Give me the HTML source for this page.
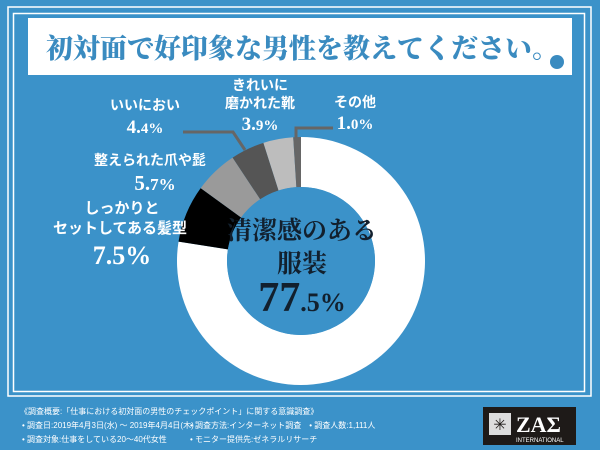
<!DOCTYPE html>
<html><head><meta charset="utf-8"><style>
body{margin:0;width:600px;height:450px;overflow:hidden;background:#3b92c9;font-family:"Liberation Sans","Noto Sans CJK JP",sans-serif;}
svg{display:block}
</style></head><body>
<svg width="600" height="450" xmlns="http://www.w3.org/2000/svg">
<rect x="0" y="0" width="600" height="450" fill="#3b92c9"/>
<rect x="8" y="7" width="583" height="389" fill="none" stroke="#fff" stroke-width="1.5"/>
<rect x="13.5" y="13.5" width="571" height="378" fill="none" stroke="#fff" stroke-width="1.5"/>
<rect x="28" y="18" width="544" height="57" fill="#fff"/>
<text x="46" y="58" font-family="'Noto Serif CJK SC','Liberation Serif',serif" font-weight="900" font-size="27" fill="#3a8bc0">初対面で好印象な男性を教えてください。</text>
<circle cx="557" cy="62" r="7" fill="#3a8bc0"/>
<g id="donut"></g>
<g id="labels" font-family="'Liberation Sans','Noto Sans CJK JP',sans-serif" font-weight="bold" fill="#fff" text-anchor="middle">
<text x="145" y="110" font-size="14">いいにおい</text>
<text x="145" y="133" font-size="15" font-family="'Liberation Serif',serif"><tspan font-size="19">4.</tspan>4%</text>
<text x="260" y="90" font-size="14">きれいに</text>
<text x="260" y="108" font-size="14">磨かれた靴</text>
<text x="260" y="130" font-size="15" font-family="'Liberation Serif',serif"><tspan font-size="19">3.</tspan>9%</text>
<text x="355" y="107" font-size="14">その他</text>
<text x="355" y="129" font-size="15" font-family="'Liberation Serif',serif"><tspan font-size="19">1.</tspan>0%</text>
<text x="150" y="165" font-size="14">整えられた爪や髭</text>
<text x="155" y="190" font-size="17" font-family="'Liberation Serif',serif"><tspan font-size="21">5.</tspan>7%</text>
<text x="122" y="213" font-size="15">しっかりと</text>
<text x="120" y="233" font-size="15">セットしてある髪型</text>
<text x="122" y="264" font-size="26" font-family="'Liberation Serif',serif">7.5%</text>
</g>
<g font-family="'Noto Serif CJK SC','Liberation Serif',serif" font-weight="bold" fill="#12202e" text-anchor="middle">
<text x="302" y="239" font-size="25">清潔感のある</text>
<text x="302" y="272" font-size="25">服装</text>
<text x="302" y="311" font-family="'Liberation Serif',serif" font-weight="bold" font-size="42">77<tspan font-size="26">.5%</tspan></text>
</g>
<g font-family="'Liberation Sans','Noto Sans CJK JP',sans-serif" font-size="8" fill="#fff">
<text x="20" y="414">《調査概要:「仕事における初対面の男性のチェックポイント」に関する意識調査》</text>
<text x="22" y="428">• 調査日:2019年4月3日(水) 〜 2019年4月4日(木)</text>
<text x="190" y="428">• 調査方法:インターネット調査　• 調査人数:1,111人</text>
<text x="22" y="442">• 調査対象:仕事をしている20〜40代女性</text>
<text x="190" y="442">• モニター提供先:ゼネラルリサーチ</text>
</g>
<g>
<rect x="483" y="407" width="93" height="38" fill="#1e1a18"/>
<rect x="489" y="413" width="22" height="22" fill="#ddd"/>
<text x="500" y="430" font-size="16" text-anchor="middle" fill="#1e1a18">✳</text>
<text x="516" y="432" font-family="'Liberation Serif',serif" font-weight="bold" font-size="22" fill="#fff">ZAΣ</text>
<text x="516" y="442" font-size="6" fill="#fff">INTERNATIONAL</text>
</g>
</svg>
<script>
const categories=["清潔感のある服装","しっかりとセットしてある髪型","整えられた爪や髭","いいにおい","きれいに磨かれた靴","その他"];
const values=[77.5,7.5,5.7,4.4,3.9,1.0];
const colors=["#ffffff","#000000","#9a9a9a","#555555","#bdbdbd","#666666"];
const NS="http://www.w3.org/2000/svg";
const cx=301,cy=261,R=124,r=74;
const g=document.getElementById('donut');
const total=values.reduce((a,b)=>a+b,0);
function pt(a,rad){return [cx+rad*Math.sin(a),cy-rad*Math.cos(a)];}
let acc=0;
values.forEach((v,i)=>{
  const a0=acc/total*2*Math.PI;acc+=v;const a1=acc/total*2*Math.PI;
  const large=(a1-a0)>Math.PI?1:0;
  const p0=pt(a0,R),p1=pt(a1,R),q1=pt(a1,r),q0=pt(a0,r);
  const p=document.createElementNS(NS,'path');
  p.setAttribute('d',`M${p0[0]},${p0[1]}A${R},${R} 0 ${large} 1 ${p1[0]},${p1[1]}L${q1[0]},${q1[1]}A${r},${r} 0 ${large} 0 ${q0[0]},${q0[1]}Z`);
  p.setAttribute('fill',colors[i]);
  
  
  g.appendChild(p);
});
const c=document.createElementNS(NS,'circle');
c.setAttribute('cx',cx);c.setAttribute('cy',cy);c.setAttribute('r',r);c.setAttribute('fill','#3b92c9');


g.appendChild(c);
["M183,132 L233,132 L245,150","M333,128 L296,128 L296,140"].forEach(d=>{
  const l=document.createElementNS(NS,'path');
  l.setAttribute('d',d);l.setAttribute('stroke','#666');l.setAttribute('stroke-width','3');l.setAttribute('fill','none');
  
  
  g.appendChild(l);
});
</script>
</body></html>
